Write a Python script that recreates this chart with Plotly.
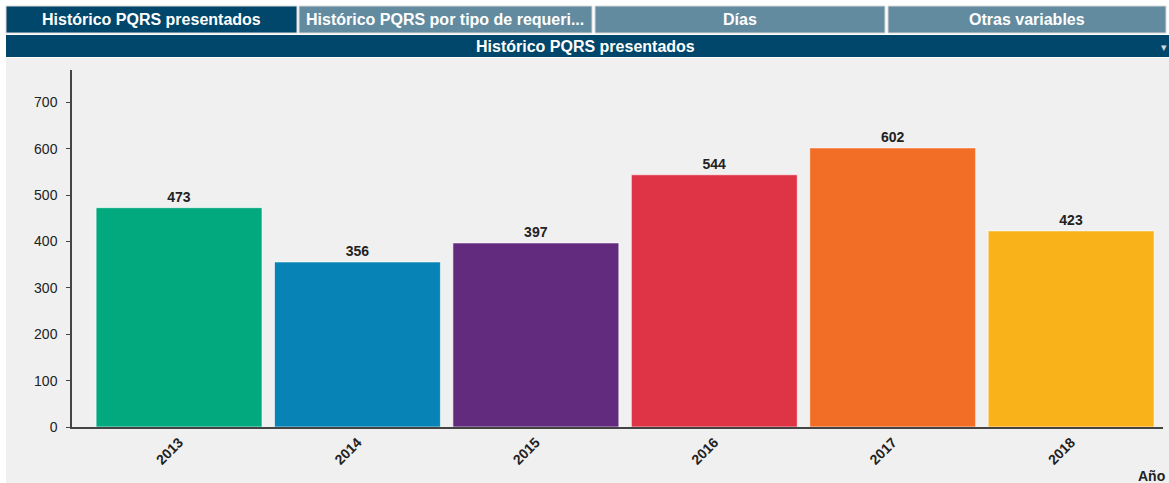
import plotly.graph_objects as go

years = ["2013", "2014", "2015", "2016", "2017", "2018"]
values = [473, 356, 397, 544, 602, 423]
colors = ["#02a97e", "#0784b5", "#622b7e", "#df3346", "#f26e26", "#f9b21a"]
tabs = ["Histórico PQRS presentados", "Histórico PQRS por tipo de requeri...", "Días", "Otras variables"]
header_title = "Histórico PQRS presentados"
x_title = "Año"

W, H = 1169, 483
FONT = "Liberation Sans, Arial"

def px(x):
    return x / W

def py(y):
    return 1 - y / H

fig = go.Figure()
fig.add_trace(go.Bar(
    x=years, y=values,
    marker=dict(color=colors, line=dict(color="rgba(255,255,255,0.6)", width=1)),
    text=[str(v) for v in values], textposition="outside",
    texttemplate="<b>%{text}</b>",
    textfont=dict(family=FONT, size=14, color="#222222"),
    cliponaxis=False, hoverinfo="x+y",
))

shapes = []
shapes.append(dict(type="rect", xref="paper", yref="paper", x0=px(6), x1=px(1169), y0=0, y1=py(58),
                   fillcolor="#f0f0f0", line=dict(width=0), layer="below"))
tab_x = [(6, 297), (299, 592), (595, 885), (888, 1166)]
tab_fill = ["#00476b", "#628ba0", "#628ba0", "#628ba0"]
annotations = []
for (a, b), f, t in zip(tab_x, tab_fill, tabs):
    shapes.append(dict(type="rect", xref="paper", yref="paper", x0=px(a), x1=px(b), y0=py(33), y1=py(6),
                       fillcolor=f, line=dict(color="#d8d8d8", width=1), layer="below"))
    annotations.append(dict(x=px((a + b) / 2), y=py(19.5), xref="paper", yref="paper", text="<b>%s</b>" % t,
                            showarrow=False, font=dict(family=FONT, size=16, color="white"),
                            xanchor="center", yanchor="middle"))
shapes.append(dict(type="rect", xref="paper", yref="paper", x0=px(6), x1=px(1169), y0=py(57), y1=py(35),
                   fillcolor="#00476b", line=dict(width=0), layer="below"))
annotations.append(dict(x=px(585), y=py(46), xref="paper", yref="paper", text="<b>%s</b>" % header_title,
                        showarrow=False, font=dict(family=FONT, size=16, color="white"),
                        xanchor="center", yanchor="middle"))
annotations.append(dict(x=px(1169), y=py(47), xref="paper", yref="paper", text="▾",
                        showarrow=False, font=dict(family="DejaVu Sans", size=11, color="#cfd8df"),
                        xanchor="right", yanchor="middle"))
annotations.append(dict(x=px(1167), y=py(476), xref="paper", yref="paper", text="<b>%s</b>" % x_title,
                        showarrow=False, font=dict(family=FONT, size=14, color="#222222"),
                        xanchor="right", yanchor="middle"))

fig.update_layout(
    width=W, height=H, autosize=False, margin=dict(l=0, r=0, t=0, b=0, pad=0),
    paper_bgcolor="white", plot_bgcolor="rgba(0,0,0,0)",
    bargap=0.07, showlegend=False,
    shapes=shapes, annotations=annotations,
    xaxis=dict(domain=[px(72), px(1163)], range=[-0.6, 5.515], type="category", automargin=False,
               showline=True, linecolor="#444444", linewidth=1.5, ticks="", tickangle=-45,
               tickprefix="<b>", ticksuffix="</b>",
               tickfont=dict(family=FONT, size=14, color="#222222"),
               showgrid=False, zeroline=False),
    yaxis=dict(domain=[py(427), py(70)], range=[0, 770], tickvals=[0, 100, 200, 300, 400, 500, 600, 700],
               automargin=False,
               showline=True, linecolor="#444444", linewidth=1.5, ticks="outside", ticklen=4,
               tickcolor="#444444", showgrid=False, zeroline=False,
               tickprefix="<b>", ticksuffix="</b>",
               tickfont=dict(family=FONT, size=14, color="#222222"),
               ticklabelstandoff=6),
)

fig.write_html(
    "out.html",
    config={"displayModeBar": False, "responsive": False},
    post_script=("document.body.style.margin='0';document.body.style.overflow='hidden';"),
)
